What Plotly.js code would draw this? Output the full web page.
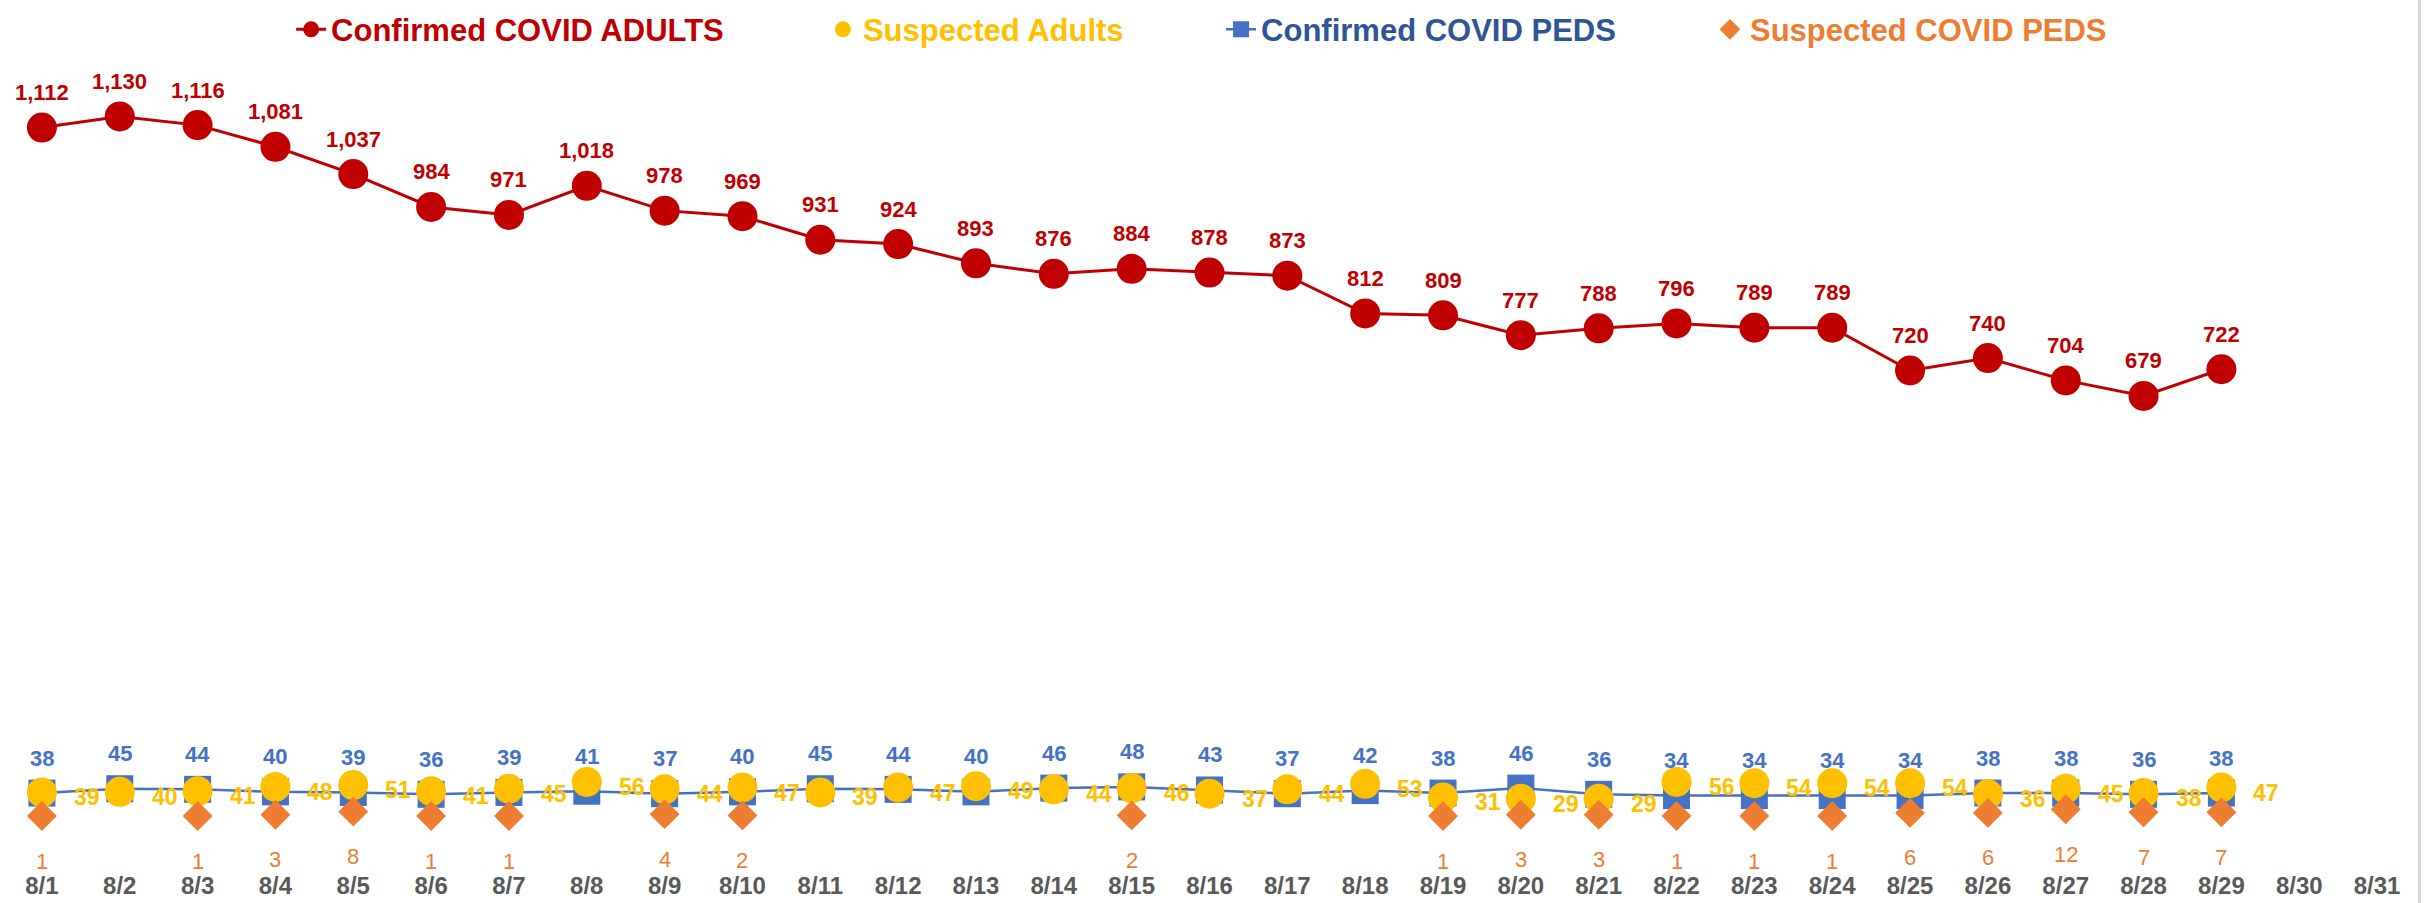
<!DOCTYPE html>
<html>
<head>
<meta charset="utf-8">
<script src="https://cdn.plot.ly/plotly-3.0.1.min.js"></script>
<style>
  html, body { margin: 0; padding: 0; background: #fff; }
  #wrap { position: relative; width: 2427px; height: 903px; }
  #chart { width: 2427px; height: 903px; }
  #edge { position: absolute; left: 2418px; top: 0; width: 3px; height: 903px; background: #d9d9d9; }
</style>
</head>
<body>
<div id="wrap">
  <div id="chart"></div>
  <div id="edge"></div>
</div>
<script>
// ---- Data ----
const dates = ['8/1','8/2','8/3','8/4','8/5','8/6','8/7','8/8','8/9','8/10',
               '8/11','8/12','8/13','8/14','8/15','8/16','8/17','8/18','8/19','8/20',
               '8/21','8/22','8/23','8/24','8/25','8/26','8/27','8/28','8/29','8/30','8/31'];

const confirmedAdults = [1112,1130,1116,1081,1037,984,971,1018,978,969,
                         931,924,893,876,884,878,873,812,809,777,
                         788,796,789,789,720,740,704,679,722];

const suspectedAdults = [39,40,41,48,51,41,45,56,44,47,
                         39,47,49,44,46,37,44,53,31,29,
                         29,56,54,54,54,36,45,38,47];

const confirmedPeds = [38,45,44,40,39,36,39,41,37,40,
                       45,44,40,46,48,43,37,42,38,46,
                       36,34,34,34,34,38,38,36,38];

const suspectedPeds = [1,null,1,3,8,1,1,null,4,2,
                       null,null,null,null,2,null,null,null,1,3,
                       3,1,1,1,6,6,12,7,7];

const seriesNames = ['Confirmed COVID ADULTS','Suspected Adults','Confirmed COVID PEDS','Suspected COVID PEDS'];

// ---- Styles ----
const RED = '#C00000', YEL = '#FFC000', BLUE = '#4472C4', ORG = '#ED7D31';
const FONT = 'Liberation Sans, Arial, sans-serif';
const xs = dates.slice(0, confirmedAdults.length);

const traces = [
  { x: xs, y: confirmedAdults, name: seriesNames[0], type: 'scatter', mode: 'lines+markers',
    line: {color: RED, width: 3}, marker: {color: RED, size: 30, symbol: 'circle'}, legend: 'legend' },
  { x: xs, y: confirmedPeds, name: seriesNames[2], type: 'scatter', mode: 'lines+markers',
    line: {color: BLUE, width: 2.5}, marker: {color: BLUE, size: 27, symbol: 'square'}, legend: 'legend3' },
  { x: xs, y: suspectedAdults, name: seriesNames[1], type: 'scatter', mode: 'markers',
    marker: {color: YEL, size: 30, symbol: 'circle'}, legend: 'legend2' },
  { x: xs, y: suspectedPeds, name: seriesNames[3], type: 'scatter', mode: 'markers',
    marker: {color: ORG, size: 23, symbol: 'diamond'}, legend: 'legend4' }
];

function fmt(v) { return v.toLocaleString('en-US'); }

const annotations = [];
confirmedAdults.forEach((v, i) => annotations.push({
  x: xs[i], y: v, text: fmt(v), showarrow: false, yshift: 35, xanchor: 'center', yanchor: 'middle',
  font: {family: FONT, size: 22, color: RED, weight: 'bold'}
}));
confirmedPeds.forEach((v, i) => annotations.push({
  x: xs[i], y: v, text: fmt(v), showarrow: false, yshift: 35, xanchor: 'center', yanchor: 'middle',
  font: {family: FONT, size: 22, color: BLUE, weight: 'bold'}
}));
suspectedAdults.forEach((v, i) => annotations.push({
  x: xs[i], y: v, text: fmt(v), showarrow: false, xshift: 45, yshift: -5, xanchor: 'center', yanchor: 'middle',
  font: {family: FONT, size: 23, color: YEL, weight: 'bold'}
}));
suspectedPeds.forEach((v, i) => { if (v !== null) annotations.push({
  x: xs[i], y: v, text: fmt(v), showarrow: false, yshift: -45, xanchor: 'center', yanchor: 'middle',
  font: {family: FONT, size: 22, color: ORG}
}); });

function leg(x, color) {
  return { orientation: 'h', x: x, xanchor: 'left', y: 1.061, yanchor: 'top',
           bgcolor: 'rgba(0,0,0,0)', borderwidth: 0,
           font: {family: FONT, size: 31, color: color, weight: 'bold'} };
}

const layout = {
  width: 2427, height: 903,
  margin: {l: 3, r: 11, t: 50, b: 43},
  paper_bgcolor: '#fff', plot_bgcolor: '#fff',
  showlegend: true,
  legend: leg(0.1194, RED),
  legend2: leg(0.3398, YEL),
  legend3: leg(0.5048, '#2F5597'),
  legend4: leg(0.7074, ORG),
  xaxis: {
    type: 'category', categoryorder: 'array', categoryarray: dates,
    range: [-0.5, dates.length - 0.5], showgrid: false, zeroline: false, showline: false,
    ticks: 'outside', ticklen: 4, tickcolor: 'rgba(0,0,0,0)',
    tickfont: {family: FONT, size: 24, color: '#595959', weight: 'bold'},
    fixedrange: true
  },
  yaxis: { range: [-70, 1234], visible: false, showgrid: false, zeroline: false, fixedrange: true },
  annotations: annotations
};

Plotly.newPlot('chart', traces, layout, {displayModeBar: false, staticPlot: true});
</script>
</body>
</html>
